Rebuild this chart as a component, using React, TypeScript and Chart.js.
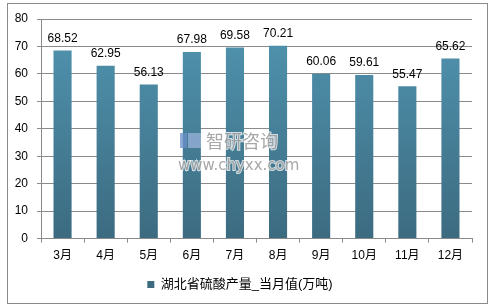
import React, { useEffect, useRef } from "react";
import { Chart, registerables } from "chart.js";

Chart.register(...registerables);

const categories = ["3月", "4月", "5月", "6月", "7月", "8月", "9月", "10月", "11月", "12月"];
const values = [68.52, 62.95, 56.13, 67.98, 69.58, 70.21, 60.06, 59.61, 55.47, 65.62];
const seriesName = "湖北省硫酸产量_当月值(万吨)";
const yMin = 0;
const yMax = 80;
const yStep = 10;

const FONT = "'Liberation Sans', 'Noto Sans CJK SC', sans-serif";

const framePlugin = {
  id: "frame",
  beforeDraw(chart: any) {
    const ctx = chart.ctx;
    ctx.save();
    ctx.fillStyle = "#ffffff";
    ctx.fillRect(0, 0, chart.width, chart.height);
    ctx.strokeStyle = "#8a8a8a";
    ctx.lineWidth = 1;
    ctx.strokeRect(7.5, 3.5, 480, 300);
    ctx.restore();
  },
};

const labelPlugin = {
  id: "barLabels",
  afterDatasetsDraw(chart: any) {
    const ctx = chart.ctx;
    const meta = chart.getDatasetMeta(0);
    ctx.save();
    ctx.font = `12px ${FONT}`;
    ctx.fillStyle = "#000000";
    ctx.textAlign = "center";
    ctx.textBaseline = "bottom";
    meta.data.forEach((bar: any, i: number) => {
      ctx.fillText(values[i].toFixed(2), bar.x, bar.y - 6);
    });
    ctx.restore();
  },
};

const watermarkPlugin = {
  id: "watermark",
  afterDraw(chart: any) {
    const ctx = chart.ctx;
    ctx.save();
    ctx.globalAlpha = 0.75;
    ctx.fillStyle = "#6a8fc8";
    ctx.fillRect(180, 133, 7, 15);
    ctx.fillStyle = "#9ab3d9";
    ctx.fillRect(188, 133, 13, 15);
    ctx.font = `18px 'Noto Sans CJK SC', sans-serif`;
    ctx.fillStyle = "#8a8a8a";
    ctx.strokeStyle = "#ffffff";
    ctx.lineWidth = 2;
    ctx.textBaseline = "middle";
    ctx.textAlign = "left";
    ctx.strokeText("智研咨询", 206, 141);
    ctx.fillText("智研咨询", 206, 141);
    ctx.font = `15px 'DejaVu Sans', sans-serif`;
    ctx.strokeText("www.chyxx.com", 178, 166);
    ctx.fillText("www.chyxx.com", 178, 166);
    ctx.restore();
  },
};

export default function App() {
  const ref = useRef<HTMLCanvasElement | null>(null);
  useEffect(() => {
    document.body.style.margin = "0";
    const canvas = ref.current!;
    const chart = new Chart(canvas, {
      type: "bar",
      data: {
        labels: categories,
        datasets: [
          {
            label: seriesName,
            data: values,
            backgroundColor: (c: any) => {
              const area = c.chart.chartArea;
              if (!area) return "#4a86a0";
              const g = c.chart.ctx.createLinearGradient(0, area.top, 0, area.bottom);
              g.addColorStop(0, "#5195b1");
              g.addColorStop(1, "#3c6b80");
              return g;
            },
            borderWidth: 0,
            barPercentage: 0.42,
            categoryPercentage: 1,
          },
        ],
      },
      options: {
        responsive: false,
        animation: false,
        devicePixelRatio: 1,
        layout: { padding: { left: 8, right: 24, top: 19, bottom: 7 } },
        plugins: {
          legend: {
            position: "bottom",
            labels: {
              boxWidth: 7,
              boxHeight: 7,
              color: "#000000",
              font: { size: 13, family: FONT },
              padding: 9,
            },
          },
          tooltip: { enabled: false },
        },
        scales: {
          x: {
            grid: {
              offset: true,
              drawOnChartArea: false,
              color: "#8a8a8a",
              tickLength: 4,
            },
            border: { color: "#8a8a8a" },
            ticks: { color: "#000000", font: { size: 12, family: FONT }, padding: 6, maxRotation: 0 },
          },
          y: {
            min: yMin,
            max: yMax,
            ticks: { stepSize: yStep, color: "#000000", font: { size: 12, family: FONT }, padding: 9 },
            grid: { color: "#8a8a8a", tickLength: 4 },
            border: { color: "#8a8a8a" },
            afterFit: (s: any) => {
              s.width = 33;
            },
          },
        },
      },
      plugins: [framePlugin, labelPlugin, watermarkPlugin],
    });
    return () => chart.destroy();
  }, []);
  return <canvas ref={ref} width={496} height={308} style={{ display: "block" }} />;
}
